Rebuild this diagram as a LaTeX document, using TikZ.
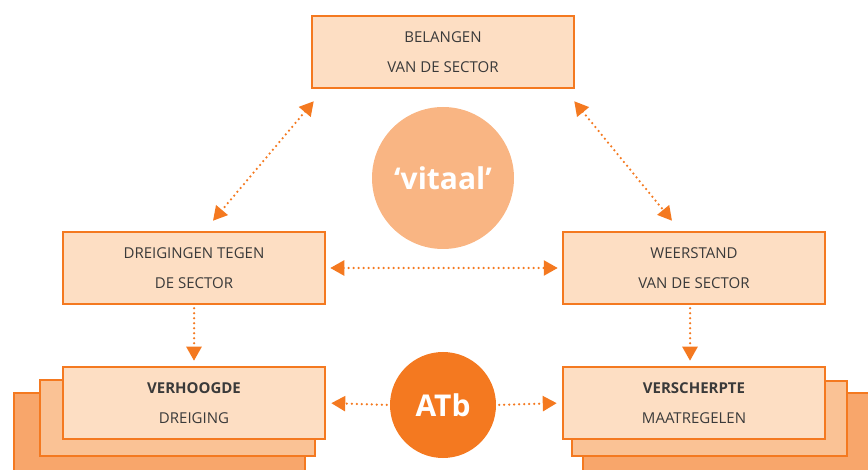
\documentclass[tikz,border=0pt]{standalone}
\usepackage{fontspec}
\setmainfont{Open Sans}
\usetikzlibrary{positioning,arrows.meta}
\definecolor{oranje}{HTML}{F47920}
\definecolor{licht}{HTML}{FDDEC3}
\definecolor{midden}{HTML}{FAC295}
\definecolor{donker}{HTML}{F8A66B}
\definecolor{zacht}{HTML}{F9B583}
\definecolor{tekst}{HTML}{3A3A3A}
\tikzset{blok/.style={rectangle,draw=oranje,fill=licht,line width=2.5pt,
           minimum width=262pt,minimum height=72pt,align=center,text=tekst,
           font=\fontsize{15}{30}\selectfont},
	 laag/.style={draw=oranje,line width=2.5pt},
	 bol/.style={circle,fill=#1,text=white,inner sep=0pt,
           font=\bfseries\fontsize{30}{30}\selectfont},
	 link/.style={oranje,line width=2.5pt,dash pattern=on 0pt off 5pt,line cap=round,
           {Triangle[length=14pt,width=15pt]}-{Triangle[length=14pt,width=15pt]}}
	 }
\begin{document}
\begin{tikzpicture}[x=1pt,y=-1pt]
	\useasboundingbox (0,0) rectangle (868,470);
	% stapels achter de onderste blokken
	\filldraw[laag,fill=donker] (14,393) rectangle (305,490);
	\filldraw[laag,fill=midden] (40,380) rectangle (315,456);
	\filldraw[laag,fill=donker] (583,393) rectangle (900,490);
	\filldraw[laag,fill=midden] (572,381) rectangle (847,456);
	\node[blok] (belang) at (443,52) {BELANGEN\\VAN DE SECTOR};
	\node[blok] (dreig) at (194,268) {DREIGINGEN TEGEN\\DE SECTOR};
	\node[blok] (weer) at (694,268) {WEERSTAND\\VAN DE SECTOR};
	\node[blok] (verh) at (194,403) {\textbf{VERHOOGDE}\\DREIGING};
	\node[blok] (versch) at (694,403) {\textbf{VERSCHERPTE}\\MAATREGELEN};
	\node[bol=zacht,minimum size=142pt] (vitaal) at (443,178) {‘vitaal’};
	\node[bol=oranje,minimum size=106pt] (atb) at (443,405) {ATb};
	\draw[link] ([shift={(3,12)}]belang.south west) -- ([shift={(19,-10)}]dreig.north);
	\draw[link] ([shift={(-1,12)}]belang.south east) -- ([shift={(-22,-10)}]weer.north);
	\draw[link,shorten <=4pt,shorten >=4pt] (dreig.east) -- (weer.west);
	\draw[link,-{Triangle[length=14pt,width=15pt]},shorten <=3pt,shorten >=5pt] (dreig.south) -- (verh.north);
	\draw[link,-{Triangle[length=14pt,width=15pt]},shorten <=3pt,shorten >=5pt] ([xshift=-4pt]weer.south) -- ([xshift=-4pt]versch.north);
	\draw[link,-{Triangle[length=14pt,width=15pt]},shorten <=3pt,shorten >=5pt] (atb.west) -- (verh.east);
	\draw[link,-{Triangle[length=14pt,width=15pt]},shorten <=3pt,shorten >=5pt] (atb.east) -- (versch.west);
\end{tikzpicture}
\end{document}
